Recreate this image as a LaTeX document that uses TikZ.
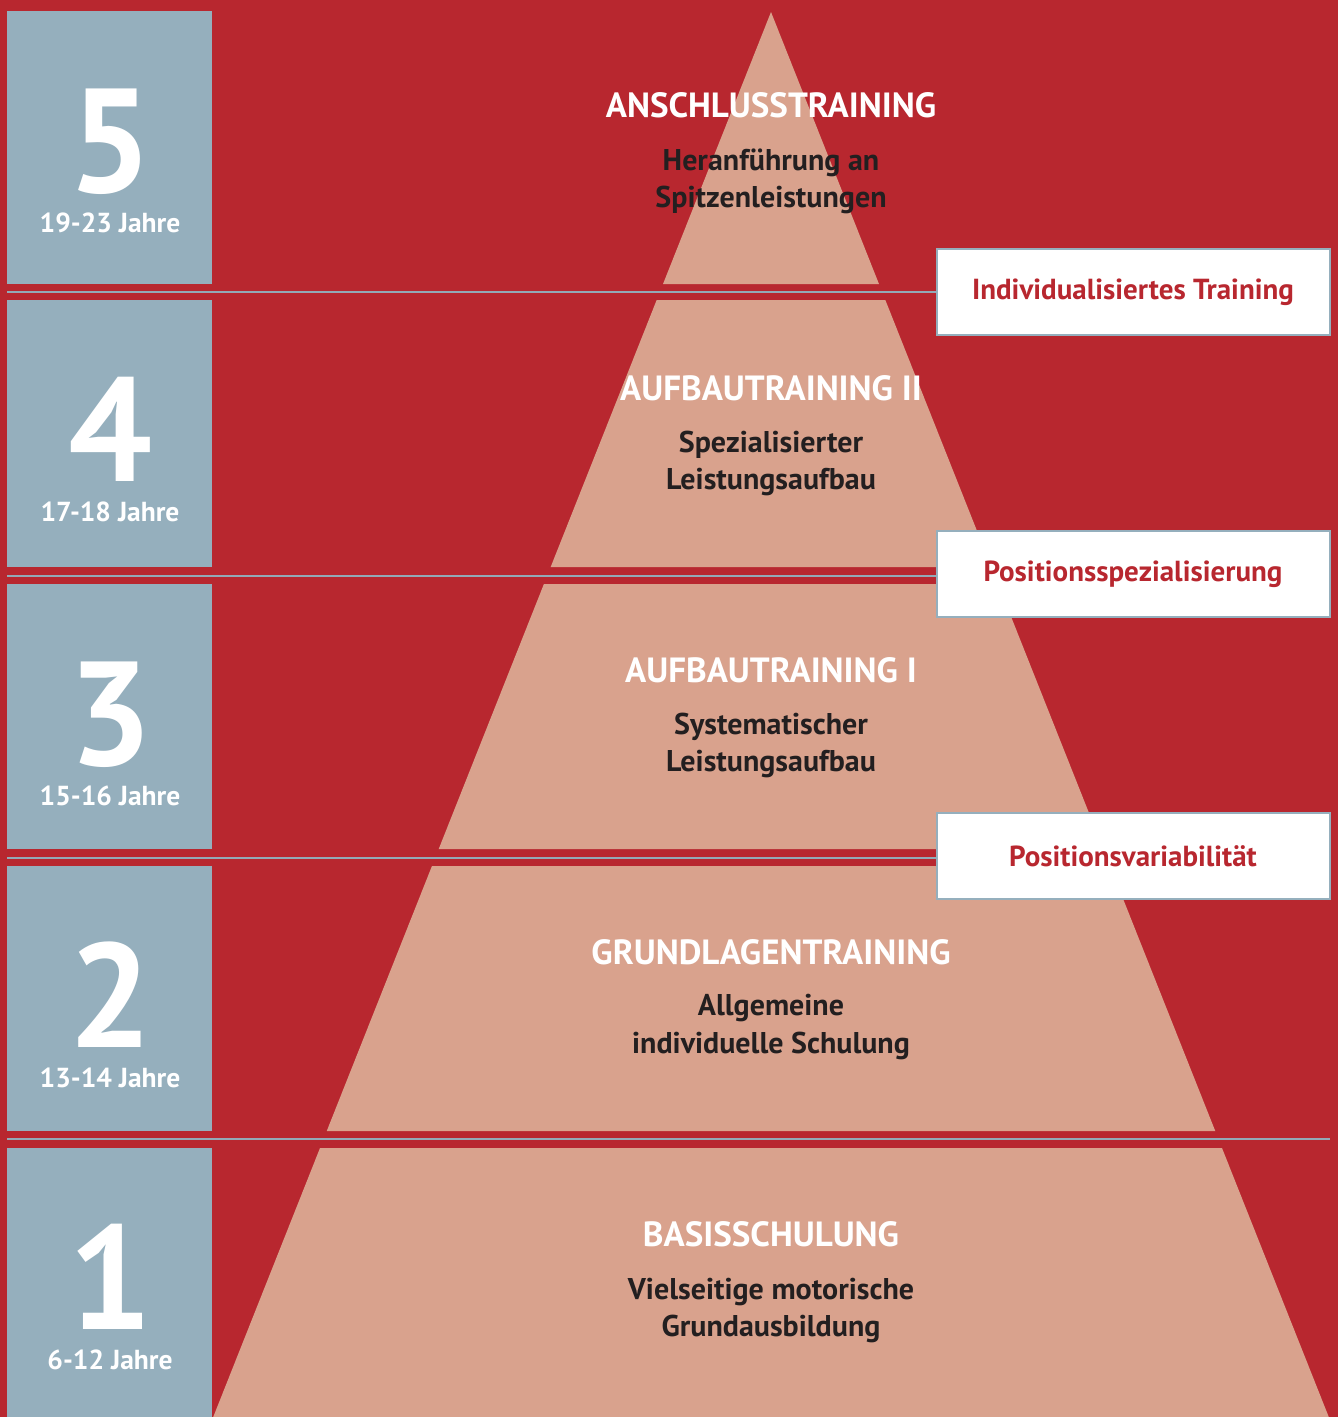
\documentclass[tikz,border=0pt]{standalone}
\usepackage{fontspec}
\setmainfont{PT Sans}
\usetikzlibrary{positioning}

\definecolor{bgred}{HTML}{B8272F}
\definecolor{slate}{HTML}{95AFBD}
\definecolor{pyrskin}{HTML}{D9A28D}
\definecolor{darktext}{HTML}{231F20}

\tikzset{
  agebox/.style={fill=slate,anchor=north west,inner sep=0pt,minimum width=205pt},
  bignum/.style={text=white,font=\bfseries\fontsize{148}{148}\selectfont,inner sep=0pt,
    text height=104pt,text depth=0pt},
  agetext/.style={text=white,font=\bfseries\fontsize{27.5}{30}\selectfont,inner sep=0pt,anchor=base},
  phase/.style={text=white,font=\bfseries\fontsize{35}{38}\selectfont,inner sep=0pt},
  goal/.style={text=darktext,font=\bfseries\fontsize{30}{37}\selectfont,align=center,inner sep=0pt},
  tagbox/.style={fill=white,draw=slate,line width=2pt,minimum width=393pt,minimum height=86pt,
    text=bgred,font=\bfseries\fontsize{29}{32}\selectfont},
  sepline/.style={draw=slate!90!gray,line width=2pt}
}

\begin{document}
\begin{tikzpicture}[x=1pt,y=-1pt]
  \fill[bgred] (0,0) rectangle (1338,1417);
  \useasboundingbox (0,0) rectangle (1338,1417);

  % age columns
  \foreach \n/\t/\b/\age in {5/11/284/19-23, 4/300/567/17-18, 3/584/849/15-16, 2/866/1131/13-14, 1/1148/1417/6-12}{
    \node[agebox,minimum height={\b-\t}] (col\n) at (7,\t) {};
    \node[bignum] (num\n) at (110,{\t+129}) {\n};
    \node[agetext] (age\n) at (110,{\t+221}) {\age{} Jahre};
  }

  % pyramid bands
  \foreach \t/\b in {12/284, 300/567, 584/849, 866/1131, 1148/1417}{
    \fill[pyrskin] ({771-0.397*(\t-12)},\t) -- ({771+0.397*(\t-12)},\t)
      -- ({771+0.397*(\b-12)},\b) -- ({771-0.397*(\b-12)},\b) -- cycle;
  }

  % phases
  \node[phase] (ph5) at (771,105)  {ANSCHLUSSTRAINING};
  \node[goal]  (go5) at (771,181)  {Heranführung an\\Spitzenleistungen};
  \node[phase] (ph4) at (771,388)  {AUFBAUTRAINING II};
  \node[goal]  (go4) at (771,463)  {Spezialisierter\\Leistungsaufbau};
  \node[phase] (ph3) at (771,670)  {AUFBAUTRAINING I};
  \node[goal]  (go3) at (771,745)  {Systematischer\\Leistungsaufbau};
  \node[phase] (ph2) at (771,952)  {GRUNDLAGENTRAINING};
  \node[goal]  (go2) at (771,1027) {Allgemeine\\individuelle Schulung};
  \node[phase] (ph1) at (771,1234) {BASISSCHULUNG};
  \node[goal]  (go1) at (771,1310) {Vielseitige motorische\\Grundausbildung};

  % separators and tags
  \node[tagbox] (tag4) at (1133,292) {Individualisiertes Training};
  \node[tagbox] (tag3) at (1133,574) {Positionsspezialisierung};
  \node[tagbox] (tag2) at (1133,856) {Positionsvariabilität};
  \coordinate (s4) at (7,292);
  \coordinate (s3) at (7,576);
  \coordinate (s2) at (7,858);
  \coordinate (s1) at (7,1139);
  \coordinate (e1) at (1330,1139);
  \draw[sepline] (s4) -- (s4 -| tag4.west);
  \draw[sepline] (s3) -- (s3 -| tag3.west);
  \draw[sepline] (s2) -- (s2 -| tag2.west);
  \draw[sepline] (s1) -- (e1);
\end{tikzpicture}
\end{document}
